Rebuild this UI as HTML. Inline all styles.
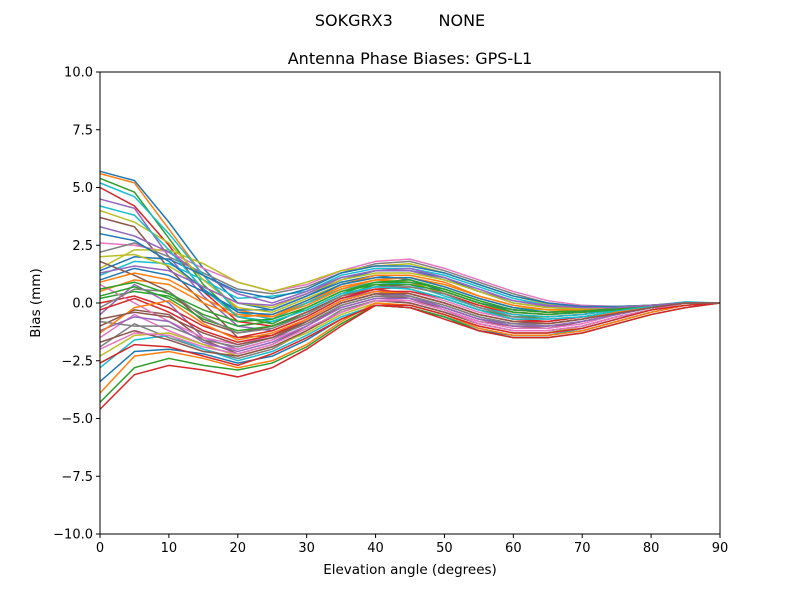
<!DOCTYPE html>
<html><head><meta charset="utf-8"><style>
body{margin:0;background:#fff;}
svg text{font-family:"DejaVu Sans","Liberation Sans",sans-serif;fill:#000;}
</style></head><body>
<svg id="chart" width="800" height="600" xmlns="http://www.w3.org/2000/svg">
<rect width="800" height="600" fill="#fff"/>
<text x="400" y="26" text-anchor="middle" font-size="16" xml:space="preserve">SOKGRX3         NONE</text>
<text x="410" y="64" text-anchor="middle" font-size="16">Antenna Phase Biases: GPS-L1</text>
<g id="series"></g>
<rect x="100" y="72" width="620" height="462" fill="none" stroke="#000" stroke-width="1"/>
<g id="xticks"></g>
<g id="yticks"></g>
<text x="410" y="574" text-anchor="middle" font-size="13.5">Elevation angle (degrees)</text>
<text transform="translate(40,303) rotate(-90)" text-anchor="middle" font-size="13.5">Bias (mm)</text>
</svg>
<script>
const elevations=[0,5,10,15,20,25,30,35,40,45,50,55,60,65,70,75,80,85,90];
const xTicks=[0,10,20,30,40,50,60,70,80,90];
const yTicks=[-10,-7.5,-5,-2.5,0,2.5,5,7.5,10];
const yTickLabels=["\u221210.0","\u22127.5","\u22125.0","\u22122.5","0.0","2.5","5.0","7.5","10.0"];
const s1=[5.7,5.3,3.5,1.5,0.0,-0.3,0.3,0.9,1.2,1.0,0.5,0.0,-0.3,-0.4,-0.35,-0.25,-0.1,0,0];
const s2=[5.6,5.2,3.2,1.2,-0.3,-0.6,0.0,0.7,1.0,0.9,0.4,-0.1,-0.4,-0.5,-0.4,-0.3,-0.1,0,0];
const s3=[5.4,4.8,2.8,0.8,-0.6,-0.9,-0.2,0.5,0.8,0.6,0.2,-0.3,-0.6,-0.6,-0.5,-0.3,-0.15,0,0];
const s4=[5.0,4.2,2.5,0.5,-0.8,-1.0,-0.4,0.3,0.6,0.4,0.0,-0.5,-0.8,-0.8,-0.6,-0.4,-0.2,0,0];
const s5=[4.5,4.1,2.0,0.3,-1.0,-1.2,-0.6,0.2,0.5,0.3,-0.2,-0.7,-0.9,-0.9,-0.7,-0.4,-0.2,0,0];
const s6=[3.7,3.3,1.5,0.0,-1.5,-1.4,-0.8,0.0,0.4,0.2,-0.3,-0.8,-1.0,-1.0,-0.8,-0.5,-0.2,0,0];
const s7=[2.6,2.5,2.2,1.5,0.9,0.5,0.8,1.4,1.8,1.9,1.5,1.0,0.5,0.1,-0.1,-0.15,-0.1,0,0];
const s8=[2.2,2.6,2.0,1.3,0.6,0.4,0.7,1.3,1.7,1.8,1.4,0.9,0.4,0.0,-0.15,-0.15,-0.1,0,0];
const s9=[1.5,2.3,2.3,1.7,0.9,0.5,0.9,1.4,1.6,1.7,1.3,0.8,0.3,-0.05,-0.2,-0.2,-0.1,0,0];
const s10=[1.2,1.8,1.7,1.0,0.2,0.3,0.5,1.2,1.5,1.5,1.2,0.7,0.2,-0.1,-0.2,-0.2,-0.1,0.05,0];
const s11=[1.0,1.5,1.2,0.5,-0.3,-0.3,0.3,1.0,1.4,1.4,1.1,0.5,0.0,-0.2,-0.25,-0.2,-0.1,0,0];
const s12=[0.5,1.0,0.8,0.0,-0.6,-0.5,0.0,0.8,1.2,1.2,0.9,0.3,-0.1,-0.3,-0.3,-0.2,-0.1,0,0];
const s13=[0.2,0.5,0.3,-0.5,-1.0,-0.8,-0.3,0.4,0.9,1.0,0.6,0.1,-0.3,-0.4,-0.3,-0.2,-0.1,0,0];
const s14=[0.0,0.3,-0.2,-1.0,-1.5,-1.2,-0.6,0.2,0.6,0.7,0.4,-0.1,-0.5,-0.6,-0.5,-0.3,-0.15,0,0];
const s15=[-0.5,0.8,0.0,-1.5,-2.0,-1.6,-0.8,0.0,0.4,0.3,-0.1,-0.6,-0.9,-0.9,-0.7,-0.4,-0.2,0,0];
const s16=[-1.0,-0.3,-0.5,-1.6,-2.2,-1.8,-1.0,-0.1,0.3,0.2,-0.2,-0.7,-1.0,-1.1,-0.8,-0.5,-0.2,0,0];
const s17=[-1.5,-0.5,-1.2,-1.8,-2.0,-1.6,-1.0,-0.2,0.2,0.1,-0.3,-0.8,-1.1,-1.1,-0.9,-0.5,-0.2,0,0];
const s18=[-1.9,-0.9,-1.5,-2.0,-2.4,-2.0,-1.2,-0.3,0.1,0.0,-0.4,-0.9,-1.2,-1.2,-1.0,-0.6,-0.3,0,0];
const s19=[-2.3,-1.4,-1.3,-1.8,-2.3,-1.9,-1.3,-0.5,0.0,-0.1,-0.5,-1.0,-1.3,-1.3,-1.0,-0.6,-0.3,0,0];
const s20=[-2.8,-1.6,-1.4,-2.0,-2.5,-2.1,-1.4,-0.6,-0.1,-0.2,-0.6,-1.1,-1.4,-1.4,-1.1,-0.7,-0.3,0,0];
const s21=[-3.4,-2.1,-2.0,-2.2,-2.6,-2.3,-1.6,-0.7,-0.1,-0.2,-0.6,-1.2,-1.4,-1.4,-1.2,-0.8,-0.4,-0.1,0];
const s22=[-3.9,-2.3,-2.1,-2.4,-2.8,-2.5,-1.8,-0.8,0.0,-0.1,-0.5,-1.1,-1.4,-1.4,-1.2,-0.8,-0.4,-0.1,0];
const s23=[-4.3,-2.8,-2.4,-2.7,-2.9,-2.6,-1.9,-0.9,-0.1,-0.2,-0.6,-1.2,-1.5,-1.5,-1.3,-0.9,-0.5,-0.2,0];
const s24=[-4.6,-3.1,-2.7,-2.9,-3.2,-2.8,-2.0,-1.0,-0.1,-0.2,-0.7,-1.2,-1.5,-1.5,-1.3,-0.9,-0.5,-0.2,0];
const s25=[3.3,2.9,2.2,1.2,0.4,0.0,0.5,1.1,1.4,1.4,1.0,0.5,0.1,-0.15,-0.2,-0.2,-0.1,0,0];
const s26=[1.8,1.2,0.5,-0.8,-1.3,-1.0,-0.4,0.3,0.7,0.8,0.5,0.0,-0.4,-0.5,-0.4,-0.3,-0.1,0,0];
const s27=[0.8,0.0,-0.8,-1.5,-1.8,-1.4,-0.7,0.1,0.5,0.5,0.1,-0.4,-0.7,-0.8,-0.6,-0.4,-0.2,0,0];
const s28=[-0.8,-1.0,-1.0,-1.6,-1.9,-1.5,-0.9,-0.1,0.3,0.3,-0.1,-0.6,-0.9,-1.0,-0.8,-0.5,-0.2,0,0];
const s29=[4.0,3.5,2.6,1.0,-0.2,-0.4,0.2,0.8,1.1,1.1,0.7,0.2,-0.2,-0.3,-0.3,-0.2,-0.1,0,0];
const s30=[5.2,4.6,3.0,1.2,-0.4,-0.7,0.0,0.6,0.9,0.8,0.3,-0.2,-0.5,-0.6,-0.5,-0.3,-0.1,0,0];
const s31=[1.4,2.0,1.9,1.2,0.5,0.2,0.6,1.3,1.6,1.6,1.3,0.8,0.3,0.0,-0.15,-0.15,-0.1,0,0];
const s32=[0.9,1.3,1.0,0.2,-0.5,-0.6,-0.1,0.6,1.0,1.1,0.8,0.3,-0.1,-0.3,-0.3,-0.2,-0.1,0,0];
const s33=[0.3,0.7,0.2,-0.7,-1.2,-1.0,-0.5,0.3,0.8,0.8,0.5,0.0,-0.4,-0.5,-0.4,-0.3,-0.1,0,0];
const s34=[-0.3,0.2,-0.4,-1.2,-1.7,-1.4,-0.7,0.1,0.5,0.5,0.2,-0.3,-0.7,-0.8,-0.6,-0.4,-0.2,0,0];
const s35=[-1.2,-0.6,-0.8,-1.7,-2.1,-1.7,-1.0,-0.2,0.2,0.2,-0.2,-0.7,-1.0,-1.0,-0.8,-0.5,-0.2,0,0];
const s36=[-1.7,-1.2,-1.6,-2.1,-2.3,-1.9,-1.2,-0.4,0.1,0.0,-0.4,-0.9,-1.2,-1.2,-1.0,-0.6,-0.3,0,0];
const s37=[-2.0,-1.3,-1.4,-1.9,-2.2,-1.8,-1.1,-0.4,0.1,0.1,-0.3,-0.9,-1.2,-1.2,-1.0,-0.6,-0.3,0,0];
const s38=[-0.2,0.6,0.5,-0.6,-1.3,-1.1,-0.5,0.3,0.7,0.7,0.4,-0.2,-0.6,-0.7,-0.6,-0.4,-0.2,0,0];
const s39=[2.0,2.1,1.6,0.7,0.0,-0.2,0.4,1.0,1.3,1.3,1.0,0.5,0.0,-0.2,-0.25,-0.2,-0.1,0,0];
const s40=[4.2,3.8,2.3,0.6,-0.6,-0.8,-0.3,0.4,0.7,0.6,0.2,-0.3,-0.7,-0.7,-0.6,-0.35,-0.15,0,0];
const s41=[3.0,2.7,1.8,0.6,-0.4,-0.5,0.1,0.8,1.1,1.1,0.7,0.2,-0.2,-0.4,-0.35,-0.25,-0.1,0,0];
const s42=[-1.3,-0.2,0.1,-0.9,-1.6,-1.3,-0.7,0.1,0.5,0.4,0.0,-0.5,-0.8,-0.9,-0.7,-0.4,-0.2,0,0];
const s43=[0.6,0.9,0.4,-0.3,-0.8,-0.7,-0.2,0.5,0.9,0.9,0.6,0.1,-0.3,-0.4,-0.35,-0.25,-0.1,0,0];
const s44=[-2.6,-1.8,-1.9,-2.3,-2.7,-2.2,-1.5,-0.7,-0.1,-0.1,-0.5,-1.0,-1.3,-1.3,-1.1,-0.7,-0.3,-0.1,0];
const s45=[1.3,1.6,1.4,0.7,0.0,-0.1,0.4,1.1,1.4,1.5,1.1,0.6,0.1,-0.1,-0.2,-0.2,-0.1,0,0];
const s46=[-0.7,-0.4,-0.6,-1.3,-1.8,-1.5,-0.8,0.0,0.4,0.4,0.0,-0.5,-0.8,-0.9,-0.7,-0.45,-0.2,0,0];
const seriesList=[s1,s2,s3,s4,s5,s6,s7,s8,s9,s10,s11,s12,s13,s14,s15,s16,s17,s18,s19,s20,s21,s22,s23,s24,s25,s26,s27,s28,s29,s30,s31,s32,s33,s34,s35,s36,s37,s38,s39,s40,s41,s42,s43,s44,s45,s46];
const colors=["#1f77b4","#ff7f0e","#2ca02c","#d62728","#9467bd","#8c564b","#e377c2","#7f7f7f","#bcbd22","#17becf"];
const NS="http://www.w3.org/2000/svg";
const X0=100,X1=720,Y0=534,Y1=72;
function xScale(v){return X0+(v-0)/(90-0)*(X1-X0);}
function yScale(v){return Y0-(v+10)/20*(Y0-Y1);}
const g=document.getElementById('series');
seriesList.forEach((s,i)=>{
  const p=document.createElementNS(NS,'polyline');
  
  
  p.setAttribute('points',s.map((v,j)=>xScale(elevations[j])+','+yScale(v)).join(' '));
  p.setAttribute('fill','none');
  p.setAttribute('stroke',colors[i%10]);
  p.setAttribute('stroke-width','1.5');
  g.appendChild(p);
});
const xg=document.getElementById('xticks');
xTicks.forEach(t=>{
  const x=xScale(t);
  const l=document.createElementNS(NS,'line');
  
  
  l.setAttribute('x1',x);l.setAttribute('x2',x);l.setAttribute('y1',Y0);l.setAttribute('y2',Y0+4);
  l.setAttribute('stroke','#000');
  xg.appendChild(l);
  const tx=document.createElementNS(NS,'text');
  
  
  tx.setAttribute('x',x);tx.setAttribute('y',Y0+18);
  tx.setAttribute('text-anchor','middle');tx.setAttribute('font-size','13');
  tx.textContent=String(t);
  xg.appendChild(tx);
});
const yg=document.getElementById('yticks');
yTicks.forEach((t,i)=>{
  const y=yScale(t);
  const l=document.createElementNS(NS,'line');
  
  
  l.setAttribute('x1',X0-4);l.setAttribute('x2',X0);l.setAttribute('y1',y);l.setAttribute('y2',y);
  l.setAttribute('stroke','#000');
  yg.appendChild(l);
  const tx=document.createElementNS(NS,'text');
  
  
  tx.setAttribute('x',X0-7);tx.setAttribute('y',y+4.5);
  tx.setAttribute('text-anchor','end');tx.setAttribute('font-size','13');
  tx.textContent=yTickLabels[i];
  yg.appendChild(tx);
});
</script>
</body></html>
